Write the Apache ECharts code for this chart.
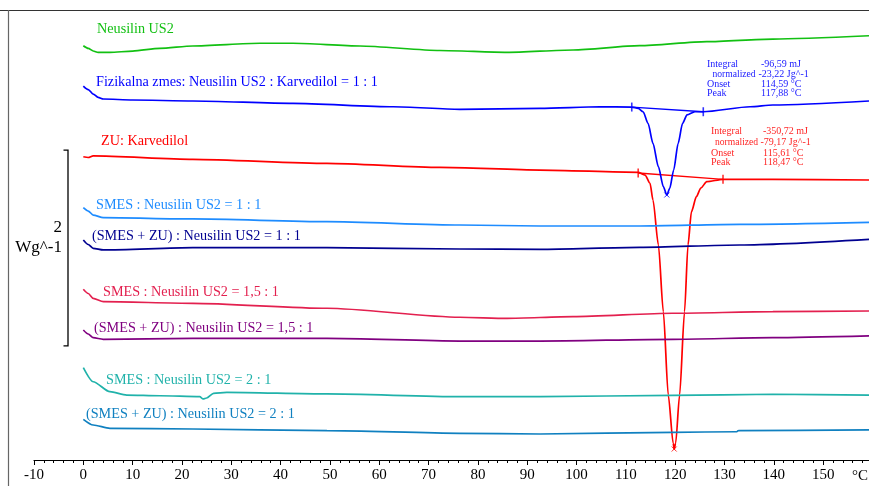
<!DOCTYPE html>
<html>
<head>
<meta charset="utf-8">
<script src="https://cdn.jsdelivr.net/npm/echarts@6/dist/echarts.min.js"></script>
<style>
html,body{margin:0;padding:0;background:#fff;}
#c{width:869px;height:486px;}
</style>
</head>
<body>
<div id="c"></div>
<script>
// Temperatures (°C) and heat flow (W/g, with display offsets)
const greenT = [0, 1, 2, 3, 5.4, 10, 15.5, 22.2, 35.8, 42.5, 56.1, 72.3, 85.9, 99.3, 112.8, 126.4, 139.8, 159.3];
const greenW = [4.235, 4.208, 4.181, 4.167, 4.167, 4.180, 4.208, 4.232, 4.260, 4.260, 4.232, 4.186, 4.167, 4.191, 4.235, 4.276, 4.303, 4.337];

const blueT = [0, 1, 2, 3, 4.05, 10, 22.2, 42.5, 62.8, 76.3, 92.6, 104.7, 111.2, 112.5, 113.5, 114.5, 115.5, 116.6, 117.6, 118.3, 118.9, 119.7, 120.6, 121.5, 122.4, 124.0, 125.7, 135.2, 139.8, 159.3];
const blueW = [3.823, 3.787, 3.741, 3.706, 3.690, 3.680, 3.670, 3.646, 3.611, 3.585, 3.595, 3.611, 3.608, 3.595, 3.560, 3.442, 3.237, 2.998, 2.794, 2.709, 2.777, 2.964, 3.237, 3.442, 3.527, 3.560, 3.560, 3.611, 3.629, 3.670];

const redT = [0, 1, 2, 22.2, 49.4, 72.3, 92.6, 112.5, 113.9, 114.9, 115.5, 116.6, 117.6, 118.6, 119.6, 119.8, 120.1, 120.9, 121.9, 122.6, 123.3, 124.3, 125.2, 126.4, 129.7, 139.8, 159.3];
const redW = [3.100, 3.092, 3.108, 3.074, 3.033, 2.992, 2.964, 2.941, 2.913, 2.829, 2.658, 2.198, 1.516, 0.664, 0.171, 0.112, 0.174, 0.664, 1.516, 2.198, 2.538, 2.692, 2.780, 2.845, 2.869, 2.869, 2.862];

const smes11T = [0, 1, 2, 4.05, 22.2, 49.4, 76.3, 92.6, 112.8, 133.1, 159.3];
const smes11W = [2.579, 2.545, 2.504, 2.477, 2.464, 2.436, 2.402, 2.392, 2.392, 2.409, 2.430];

const zu11T = [0, 1, 2, 4.05, 22.2, 49.4, 76.3, 92.6, 112.8, 133.1, 159.3];
const zu11W = [2.249, 2.203, 2.164, 2.147, 2.170, 2.170, 2.157, 2.154, 2.174, 2.198, 2.256];

const smes151T = [0, 1, 2, 4.05, 22.2, 49.4, 76.3, 85.9, 99.3, 119.5, 139.8, 159.3];
const smes151W = [1.745, 1.702, 1.653, 1.618, 1.602, 1.551, 1.459, 1.448, 1.465, 1.500, 1.516, 1.523];

const zu151T = [0, 1, 2, 4.05, 22.2, 49.4, 76.3, 92.6, 119.5, 139.8, 159.3];
const zu151W = [1.329, 1.288, 1.250, 1.234, 1.244, 1.244, 1.216, 1.216, 1.234, 1.250, 1.268];

const smes21T = [0, 2, 5.4, 8.8, 15.5, 23.6, 24.3, 25.0, 26.4, 29.1, 49.4, 76.3, 92.6, 119.5, 139.8, 159.3];
const smes21W = [0.944, 0.800, 0.698, 0.664, 0.657, 0.647, 0.624, 0.634, 0.682, 0.692, 0.675, 0.647, 0.647, 0.661, 0.672, 0.664];

const zu21T = [0, 2, 5.4, 22.2, 49.4, 76.3, 92.6, 119.5, 132.5, 132.8, 159.3];
const zu21W = [0.416, 0.358, 0.324, 0.317, 0.300, 0.273, 0.266, 0.283, 0.289, 0.300, 0.307];

// Integration baselines (onset/end) and peak points
const blueBaseT = [111.2, 125.7];
const blueBaseW = [3.608, 3.560];
const bluePeak = [118.3, 2.709];
const redBaseT = [112.5, 129.7];
const redBaseW = [2.934, 2.869];
const redPeak = [119.8, 0.112];

const curveLabels = [
  'Neusilin US2',
  'Fizikalna zmes: Neusilin US2 : Karvedilol = 1 : 1',
  'ZU: Karvedilol',
  'SMES : Neusilin US2 = 1 : 1',
  '(SMES + ZU) : Neusilin US2 = 1 : 1',
  'SMES : Neusilin US2 = 1,5 : 1',
  '(SMES + ZU) : Neusilin US2 = 1,5 : 1',
  'SMES : Neusilin US2 = 2 : 1',
  '(SMES + ZU) : Neusilin US2 = 2 : 1'
];
const blueAnnot = [['Integral', '-96,59 mJ'], ['normalized', '-23,22 Jg^-1'], ['Onset', '114,59 °C'], ['Peak', '117,88 °C']];
const redAnnot = [['Integral', '-350,72 mJ'], ['normalized', '-79,17 Jg^-1'], ['Onset', '115,61 °C'], ['Peak', '118,47 °C']];
const xTickLabels = ['-10','0','10','20','30','40','50','60','70','80','90','100','110','120','130','140','150'];
const scaleSpan = 2; // W/g
const scaleTop = 3.167;

const FONT = '"Liberation Serif", "Times New Roman", serif';
const pairs = (t, w) => t.map((x, i) => [x, w[i]]);

const curves = [
  {t: greenT, w: greenW, c: '#12c012'},
  {t: blueT, w: blueW, c: '#0000ff'},
  {t: redT, w: redW, c: '#ff0000'},
  {t: smes11T, w: smes11W, c: '#1e8cff'},
  {t: zu11T, w: zu11W, c: '#000090'},
  {t: smes151T, w: smes151W, c: '#e3204f'},
  {t: zu151T, w: zu151W, c: '#800080'},
  {t: smes21T, w: smes21W, c: '#20b2aa'},
  {t: zu21T, w: zu21W, c: '#1080c0'}
];

const chart = echarts.init(document.getElementById('c'), null, {renderer: 'canvas'});

const series = curves.map(cv => ({
  type: 'line', data: pairs(cv.t, cv.w), showSymbol: false, smooth: 0.25, smoothMonotone: 'x',
  lineStyle: {color: cv.c, width: 1.7}, itemStyle: {color: cv.c}, silent: true, z: 3
}));

series.push({type: 'line', data: pairs(blueBaseT, blueBaseW), showSymbol: false, lineStyle: {color: '#0000ff', width: 1.3}, silent: true, z: 2});
series.push({type: 'line', data: pairs(redBaseT, redBaseW), showSymbol: false, lineStyle: {color: '#ff0000', width: 1.3}, silent: true, z: 2});
series.push({type: 'scatter', data: pairs(blueBaseT, blueBaseW), symbol: 'rect', symbolSize: [1.6, 9], itemStyle: {color: '#0000ff'}, silent: true, z: 4});
series.push({type: 'scatter', data: pairs(redBaseT, redBaseW), symbol: 'rect', symbolSize: [1.6, 9], itemStyle: {color: '#ff0000'}, silent: true, z: 4});
series.push({type: 'scatter', data: [bluePeak], symbol: 'path://M0,0L10,10M10,0L0,10', symbolSize: 5, itemStyle: {color: 'none', borderColor: '#0000ff', borderWidth: 1}, silent: true, z: 4});
series.push({type: 'scatter', data: [redPeak], symbol: 'path://M0,0L10,10M10,0L0,10', symbolSize: 5, itemStyle: {color: 'none', borderColor: '#ff0000', borderWidth: 1}, silent: true, z: 4});

chart.setOption({
  animation: false,
  backgroundColor: '#ffffff',
  grid: {left: 34, right: 0, top: 10, bottom: 26},
  xAxis: {
    type: 'value', min: -10, max: 159.3, interval: 10,
    axisLine: {show: true, lineStyle: {color: '#000', width: 1.2}},
    axisTick: {show: true, length: 5, inside: false, lineStyle: {color: '#000'}},
    minorTick: {show: true, splitNumber: 5, length: 3, lineStyle: {color: '#000'}},
    splitLine: {show: false},
    axisLabel: {
      show: true, margin: 8, fontFamily: FONT, fontSize: 15, color: '#000', showMaxLabel: false,
      formatter: v => { const i = Math.round((v + 10) / 10); return xTickLabels[i] !== undefined ? xTickLabels[i] : ''; }
    }
  },
  yAxis: {type: 'value', min: 0, max: 4.6, show: false},
  series: series
});

// Texts and frame
const g = [];
g.push({type: 'line', shape: {x1: 0, y1: 10.5, x2: 869, y2: 10.5}, style: {stroke: '#333', lineWidth: 1.2}, z: 10});
g.push({type: 'line', shape: {x1: 8.5, y1: 10, x2: 8.5, y2: 486}, style: {stroke: '#666', lineWidth: 1.2}, z: 10});

const labelPos = [[97, 29], [96, 82], [101, 141], [96, 205], [92, 236], [103, 292], [94, 328], [106, 380], [86, 414]];
curveLabels.forEach((txt, i) => {
  g.push({type: 'text', style: {text: txt, x: labelPos[i][0], y: labelPos[i][1], fill: curves[i].c, font: '14.2px ' + FONT, align: 'left', verticalAlign: 'middle'}, z: 10});
});

function annot(rows, x1, xn, x2, xnv, ys, color) {
  rows.forEach((r, i) => {
    g.push({type: 'text', style: {text: r[0], x: i === 1 ? xn : x1, y: ys[i], fill: color, font: (i === 1 ? '9.6px ' : '10px ') + FONT, align: 'left', verticalAlign: 'middle'}, z: 10});
    g.push({type: 'text', style: {text: r[1], x: i === 1 ? xnv : x2, y: ys[i], fill: color, font: '10px ' + FONT, align: 'left', verticalAlign: 'middle'}, z: 10});
  });
}
annot(blueAnnot, 707, 712.5, 761, 758.5, [64, 74, 84, 93.5], '#2020ff');
annot(redAnnot, 711, 715, 763, 760.5, [131.5, 142.5, 153, 162.5], '#ff2525');

// scale bar (2 W/g)
const pTop = chart.convertToPixel({gridIndex: 0}, [0, scaleTop]);
const pBot = chart.convertToPixel({gridIndex: 0}, [0, scaleTop - scaleSpan]);
g.push({type: 'polyline', shape: {points: [[63.5, pTop[1]], [68, pTop[1]], [68, pBot[1]], [63.5, pBot[1]]]}, style: {stroke: '#000', lineWidth: 1.3, fill: null}, z: 10});
g.push({type: 'text', style: {text: String(scaleSpan), x: 62, y: 228, fill: '#000', font: '17px ' + FONT, align: 'right', verticalAlign: 'middle'}, z: 10});
g.push({type: 'text', style: {text: 'Wg^-1', x: 62, y: 248, fill: '#000', font: '17px ' + FONT, align: 'right', verticalAlign: 'middle'}, z: 10});
g.push({type: 'text', style: {text: '°C', x: 860, y: 476, fill: '#000', font: '15px ' + FONT, align: 'center', verticalAlign: 'middle'}, z: 10});

chart.setOption({graphic: g});
</script>
</body>
</html>
